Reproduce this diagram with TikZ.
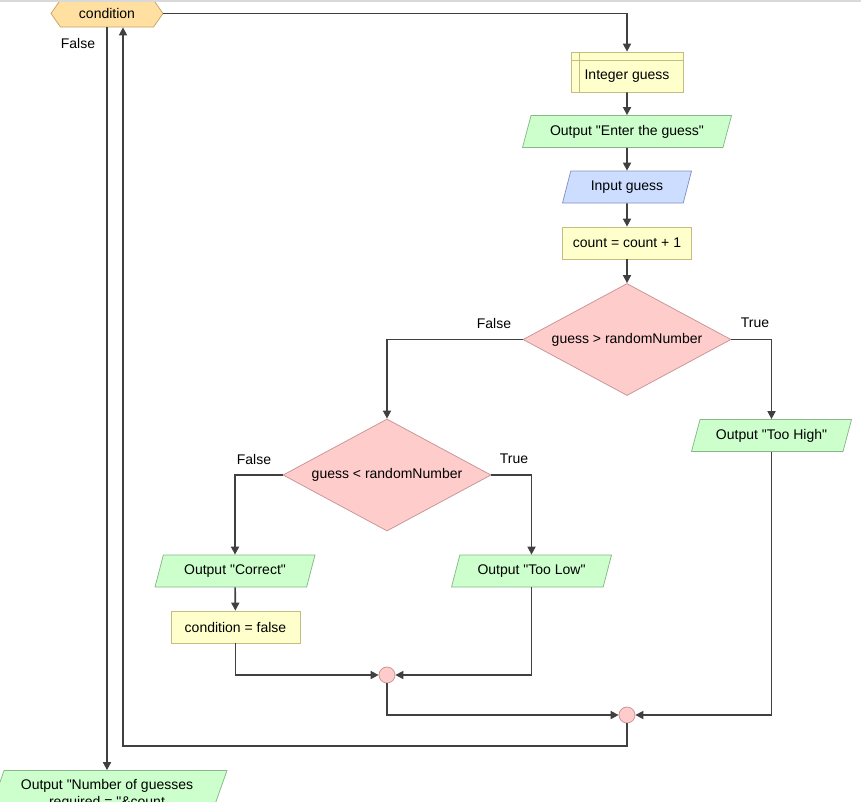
\documentclass[tikz,border=0pt]{standalone}
\usepackage{fontspec}
\setmainfont{Liberation Sans}[Ligatures=TeXOff]
\usetikzlibrary{shapes.geometric,shapes.symbols,arrows.meta}

\definecolor{lineclr}{HTML}{404040}
\definecolor{hexfill}{HTML}{FFE0A0}
\definecolor{hexedge}{HTML}{C8A468}
\definecolor{procfill}{HTML}{FFFFCC}
\definecolor{procedge}{HTML}{C2BE82}
\definecolor{outfill}{HTML}{CCFFCC}
\definecolor{outedge}{HTML}{88B888}
\definecolor{infill}{HTML}{CCDDFF}
\definecolor{inedge}{HTML}{8094C0}
\definecolor{decfill}{HTML}{FFCCCC}
\definecolor{decedge}{HTML}{C89494}

\tikzset{
  base/.style={draw, line width=0.75pt, font=\fontsize{14}{17}\selectfont, inner sep=2pt},
  hexbox/.style={base, signal, signal to=west and east, signal pointer angle=110,
    fill=hexfill, draw=hexedge, minimum width=112pt, minimum height=27pt},
  procbox/.style={base, rectangle, fill=procfill, draw=procedge, minimum width=129pt, minimum height=32pt},
  declbox/.style={procbox, minimum width=112pt, minimum height=40pt,
    path picture={
      \draw[procedge, line width=0.75pt] ([xshift=8pt]path picture bounding box.north west) -- ([xshift=8pt]path picture bounding box.south west);
      \draw[procedge, line width=0.75pt] ([yshift=-8pt]path picture bounding box.north west) -- ([yshift=-8pt]path picture bounding box.north east);}},
  iobox/.style={base, trapezium, trapezium left angle=63.4, trapezium right angle=116.6,
    trapezium stretches body, minimum height=32pt},
  outbox/.style={iobox, fill=outfill, draw=outedge},
  inbox/.style={iobox, fill=infill, draw=inedge},
  decbox/.style={base, diamond, aspect=1.86, fill=decfill, draw=decedge, minimum width=208pt, minimum height=112pt, inner sep=0pt},
  joinpt/.style={base, circle, fill=decfill, draw=decedge, minimum size=16pt, inner sep=0pt},
  lbl/.style={font=\fontsize{14}{17}\selectfont, inner sep=0pt},
  flow/.style={draw=lineclr, line width=1.6pt, -{Triangle[length=8pt,width=8pt]}}
}

\begin{document}
\begin{tikzpicture}[x=1pt,y=-1pt]
  \useasboundingbox (0,0) rectangle (861,801);
  \clip (0,0) rectangle (861,801);
  \fill[white] (0,0) rectangle (861,801);

  \node[hexbox] (cond) at (107,13.5) {condition};
  \fill[black!15] (0,0) rectangle (861,2);

  \node[declbox] (intg) at (627,72) {\raisebox{-4pt}[\height][\depth]{Integer guess}};
  \node[outbox, minimum width=209pt] (enter) at (627,131.5) {Output "Enter the guess"};
  \node[inbox, minimum width=129pt] (inp) at (627,187) {Input guess};
  \node[procbox] (cnt) at (627,243) {count = count + 1};
  \node[decbox] (dhigh) at (627,339.5) {guess > randomNumber};
  \node[outbox, minimum width=160pt] (high) at (771.5,435.5) {Output "Too High"};
  \node[decbox] (dlow) at (387,475) {guess < randomNumber};
  \node[outbox, minimum width=160pt] (corr) at (235,571) {Output "Correct"};
  \node[procbox] (cfalse) at (235.5,627) {condition = false};
  \node[outbox, minimum width=160pt] (low) at (531.5,571) {Output "Too Low"};
  \node[joinpt] (jlow) at (387,675) {};
  \node[joinpt] (jhigh) at (627,715) {};
  \node[outbox, minimum width=240pt, minimum height=48pt, align=center] (result) at (107,794.5)
    {Output "Number of guesses\\ required = "\&count};
  \coordinate (back) at (123,746);

  \node[lbl] (fcond) at (78,43) {False};
  \node[lbl] (fhigh) at (494,323) {False};
  \node[lbl] (thigh) at (755,323) {True};
  \node[lbl] (flow) at (254,459) {False};
  \node[lbl] (tlow) at (514,459) {True};

  \draw[flow] (cond.east) -| (intg.north);
  \draw[flow] (intg) -- (enter);
  \draw[flow] (enter) -- (inp);
  \draw[flow] (inp) -- (cnt);
  \draw[flow] (cnt) -- (dhigh);
  \draw[flow] (dhigh.west) -| (dlow.north);
  \draw[flow] (dhigh.east) -| (high.north);
  \draw[flow] (dlow.west) -| (corr.north);
  \draw[flow] (dlow.east) -| (low.north);
  \draw[flow] (corr) -- (cfalse);
  \draw[flow] (cfalse.south) |- (jlow.west);
  \draw[flow] (low.south) |- (jlow.east);
  \draw[flow] (jlow.south) |- (jhigh.west);
  \draw[flow] (high.south) |- (jhigh.east);
  \draw[flow] (jhigh.south) |- (back) -- (back |- cond.south);
  \draw[flow] (cond.south) -- (cond.south |- result.north);
\end{tikzpicture}
\end{document}
